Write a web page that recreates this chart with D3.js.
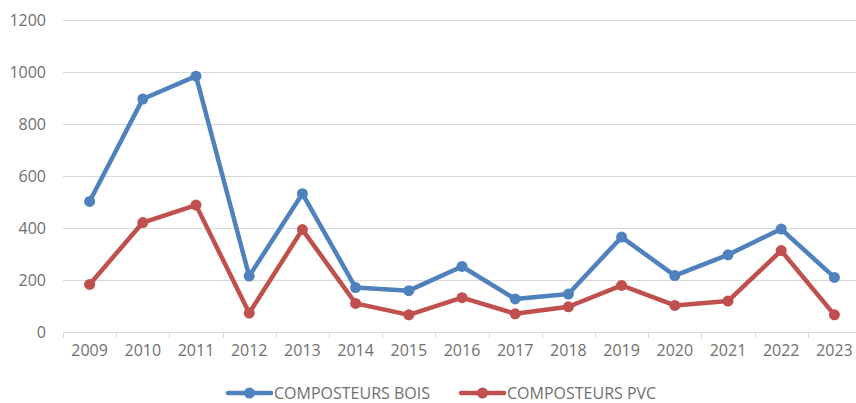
<!DOCTYPE html>
<html>
<head>
<meta charset="utf-8">
<script src="https://cdn.jsdelivr.net/npm/d3@7"></script>
<style>
  html, body { margin: 0; padding: 0; background: #fff; }
  svg { display: block; font-family: "Open Sans", "Liberation Sans", sans-serif; }
</style>
</head>
<body>
<svg id="chart" width="856" height="403"></svg>
<script>
// Annual distribution of composters, 2009–2023
const years = ["2009","2010","2011","2012","2013","2014","2015","2016","2017","2018","2019","2020","2021","2022","2023"];
const bois = [502, 896, 984, 215, 532, 171, 159, 252, 127, 146, 365, 217, 297, 396, 210];
const pvc  = [183, 421, 488, 73, 394, 110, 66, 132, 70, 97, 179, 102, 119, 313, 66];
const yTicks = [0, 200, 400, 600, 800, 1000, 1200];
const seriesNames = ["COMPOSTEURS BOIS", "COMPOSTEURS PVC"];
const seriesColors = ["#4f81bd", "#c0504d"];
const textColor = "#6f6f6f";

const svg = d3.select("#chart");
const plot = { left: 63, right: 861, top: 20, bottom: 332 };

const x = d3.scaleBand().domain(years).range([plot.left, plot.right]);
const y = d3.scaleLinear().domain([0, 1200]).range([plot.bottom, plot.top]);

// horizontal gridlines
svg.append("g")
  .selectAll("line")
  .data(yTicks.filter(d => d > 0))
  .join("line")
  .attr("x1", plot.left).attr("x2", 856)
  .attr("y1", d => y(d) + 0.5).attr("y2", d => y(d) + 0.5)
  .attr("stroke", "#d9d9d9").attr("stroke-width", 1);

// y axis labels
const yAxis = svg.append("g")
  .attr("transform", `translate(${plot.left},0)`)
  .call(d3.axisLeft(y).tickValues(yTicks).tickSize(0).tickPadding(17).tickFormat(d3.format("d")));
yAxis.select(".domain").remove();
yAxis.selectAll("text").attr("fill", textColor).attr("font-size", 16).attr("font-family", "\"Open Sans\", sans-serif");

// x axis with category boundary ticks
const xAxis = svg.append("g")
  .attr("transform", `translate(0,${plot.bottom + 0.5})`)
  .call(d3.axisBottom(x).tickSize(0).tickPadding(12));
xAxis.select(".domain").attr("stroke", "#d9d9d9").attr("d", `M${plot.left},0H856`);
xAxis.selectAll("text").attr("fill", textColor).attr("font-size", 16).attr("font-family", "\"Open Sans\", sans-serif");
xAxis.append("g")
  .selectAll("line")
  .data(years)
  .join("line")
  .attr("x1", d => Math.round(x(d)) + 0.5).attr("x2", d => Math.round(x(d)) + 0.5)
  .attr("y1", 0).attr("y2", 6)
  .attr("stroke", "#d9d9d9");

// series lines and markers
const line = d3.line()
  .x((d, i) => x(years[i]) + x.bandwidth() / 2)
  .y(d => y(d));

[bois, pvc].forEach((vals, s) => {
  const g = svg.append("g");
  g.append("path")
    .datum(vals)
    .attr("d", line)
    .attr("fill", "none")
    .attr("stroke", seriesColors[s])
    .attr("stroke-width", 4.5)
    .attr("stroke-linejoin", "round")
    .attr("stroke-linecap", "round");
  g.selectAll("circle")
    .data(vals)
    .join("circle")
    .attr("cx", (d, i) => x(years[i]) + x.bandwidth() / 2)
    .attr("cy", d => y(d))
    .attr("r", 5.5)
    .attr("fill", seriesColors[s]);
});

// legend
const legendX = [228, 461];
const legendY = 393;
seriesNames.forEach((name, s) => {
  const g = svg.append("g").attr("transform", `translate(${legendX[s]},${legendY})`);
  g.append("line")
    .attr("x1", 0).attr("x2", 43).attr("y1", 0).attr("y2", 0)
    .attr("stroke", seriesColors[s]).attr("stroke-width", 4.5).attr("stroke-linecap", "round");
  g.append("circle").attr("cx", 21.5).attr("cy", 0).attr("r", 5.5).attr("fill", seriesColors[s]);
  g.append("text")
    .attr("x", 46).attr("y", 0).attr("dy", "0.36em")
    .attr("fill", textColor).attr("font-size", 16)
    .text(name);
});
</script>
</body>
</html>
